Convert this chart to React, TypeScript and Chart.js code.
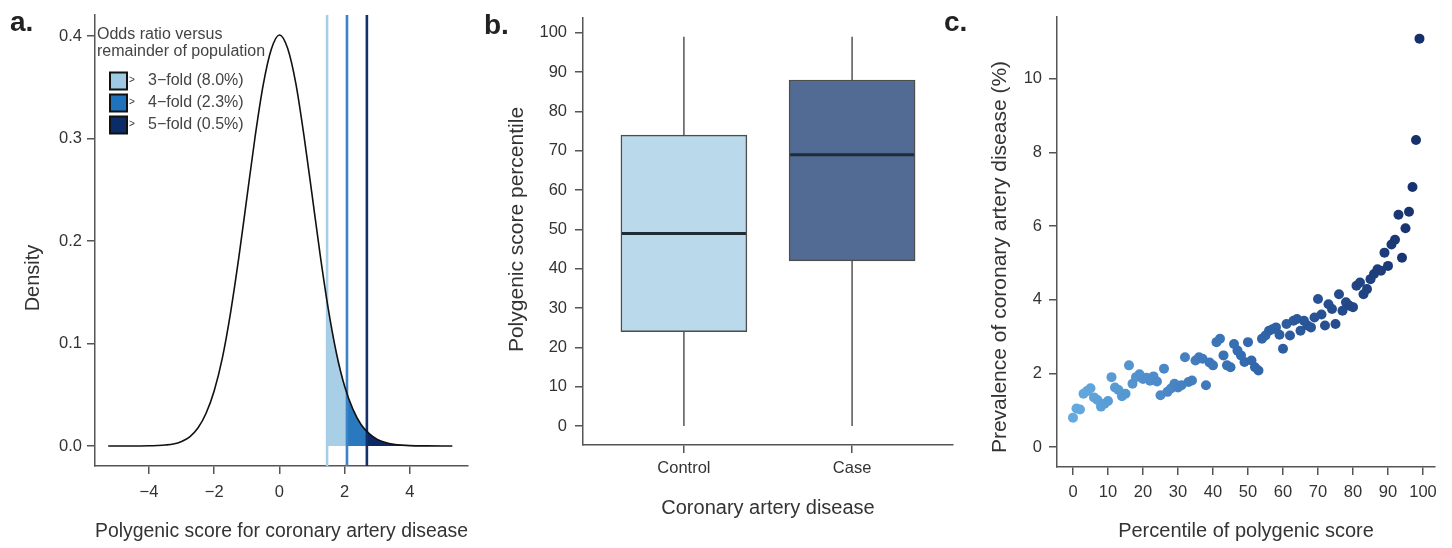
import React, { useEffect, useRef } from "react";
import { Chart, registerables } from "chart.js";
Chart.register(...registerables);

const FONT = "'Liberation Sans', Arial, Helvetica, sans-serif";
const AXIS_COLOR = "#555555";
const TEXT_COLOR = "#333333";

// ---------- Panel a: density of polygenic score ----------
const densityX = [-5.25, -5, -4.5, -4, -3.75, -3.5, -3.25, -3, -2.75, -2.5, -2.25, -2, -1.75, -1.5, -1.25, -1, -0.75, -0.5, -0.25, 0, 0.25, 0.5, 0.75, 1, 1.25, 1.5, 1.75, 2, 2.25, 2.5, 2.75, 3, 3.25, 3.5, 3.75, 4, 4.5, 5, 5.3];
const densityY = [0, 0, 0, 0.0002, 0.0005, 0.001, 0.002, 0.0045, 0.009, 0.0175, 0.032, 0.054, 0.086, 0.13, 0.183, 0.242, 0.301, 0.352, 0.387, 0.401, 0.388, 0.354, 0.303, 0.245, 0.186, 0.133, 0.09, 0.058, 0.036, 0.021, 0.012, 0.0065, 0.0035, 0.0018, 0.0009, 0.0004, 0.0001, 0, 0];
const cutoffs = [1.46, 2.07, 2.68];
const legendTitleLines = ["Odds ratio versus", "remainder of population"];
const legendLabels = ["3\u2212fold (8.0%)", "4\u2212fold (2.3%)", "5\u2212fold (0.5%)"];
const densityXTicks = [-4, -2, 0, 2, 4];
const densityXTickLabels = ["\u22124", "\u22122", "0", "2", "4"];
const densityYTicks = [0, 0.1, 0.2, 0.3, 0.4];

// ---------- Panel b: box plot ----------
const groups = ["Control", "Case"];
const whiskerLow = [0, 0];
const q1 = [24, 42];
const medians = [49, 69];
const q3 = [74, 88];
const whiskerHigh = [99, 99];
const boxYTicks = [0, 10, 20, 30, 40, 50, 60, 70, 80, 90, 100];

// ---------- Panel c: prevalence by percentile ----------
const percentiles = [0, 1, 2, 3, 4, 5, 6, 7, 8, 9, 10, 11, 12, 13, 14, 15, 16, 17, 18, 19, 20, 21, 22, 23, 24, 25, 26, 27, 28, 29, 30, 31, 32, 33, 34, 35, 36, 37, 38, 39, 40, 41, 42, 43, 44, 45, 46, 47, 48, 49, 50, 51, 52, 53, 54, 55, 56, 57, 58, 59, 60, 61, 62, 63, 64, 65, 66, 67, 68, 69, 70, 71, 72, 73, 74, 75, 76, 77, 78, 79, 80, 81, 82, 83, 84, 85, 86, 87, 88, 89, 90, 91, 92, 93, 94, 95, 96, 97, 98, 99];
const prevalence = [
  0.80, 1.05, 1.02, 1.45, 1.52, 1.60, 1.35, 1.28, 1.10, 1.18,
  1.25, 1.90, 1.62, 1.55, 1.38, 1.45, 2.22, 1.72, 1.90, 1.98,
  1.85, 1.88, 1.80, 1.92, 1.78, 1.41, 2.13, 1.50, 1.59, 1.72,
  1.62, 1.68, 2.44, 1.77, 1.81, 2.35, 2.44, 2.40, 1.68, 2.30,
  2.22, 2.85, 2.94, 2.49, 2.22, 2.17, 2.80, 2.62, 2.49, 2.31,
  2.85, 2.35, 2.17, 2.08, 2.94, 3.03, 3.16, 3.20, 3.25, 3.05,
  2.67, 3.34, 3.03, 3.43, 3.48, 3.16, 3.43, 3.30, 3.25, 3.52,
  4.02, 3.60, 3.30, 3.88, 3.75, 3.34, 4.15, 3.70, 3.93, 3.84,
  3.80, 4.38, 4.47, 4.15, 4.29, 4.56, 4.70, 4.83, 4.79, 5.28,
  4.92, 5.50, 5.63, 6.31, 5.14, 5.94, 6.39, 7.06, 8.34, 11.09,
];
const prevalenceTicks = [0, 2, 4, 6, 8, 10];
const percentileTicks = [0, 10, 20, 30, 40, 50, 60, 70, 80, 90, 100];

// ---------- styles ----------
const cutoffLineColors = ["#a6cee6", "#3a84c5", "#13306a"];
const tailFillColors = ["#a9cfe6", "#2a78bd", "#0b2a63"];
const legendFills = ["#9fcae4", "#2172bd", "#0b2c66"];
const boxFills = ["#bad9ea", "#526b94"];
const dotStops: [number, number[]][] = [
  [0, [100, 170, 224]],
  [0.5, [52, 106, 176]],
  [1, [22, 48, 108]],
];

function dotColor(t: number) {
  for (let i = 0; i < dotStops.length - 1; i++) {
    const [t0, c0] = dotStops[i];
    const [t1, c1] = dotStops[i + 1];
    if (t <= t1) {
      const f = (t - t0) / (t1 - t0);
      const c = c0.map((v, k) => Math.round(v + (c1[k] - v) * f));
      return `rgb(${c[0]},${c[1]},${c[2]})`;
    }
  }
  const c = dotStops[dotStops.length - 1][1];
  return `rgb(${c[0]},${c[1]},${c[2]})`;
}

function makeAxis(
  min: number,
  max: number,
  tickVals: number[],
  fmt: (v: number) => string,
  fit: number,
  isX: boolean,
  pad: number,
  title?: string,
  titlePad?: number
): any {
  return {
    type: "linear",
    min,
    max,
    offset: false,
    afterBuildTicks: (s: any) => {
      s.ticks = tickVals.map((v) => ({ value: v }));
    },
    afterFit: (s: any) => {
      if (isX) s.height = fit;
      else s.width = fit;
    },
    grid: {
      display: true,
      drawOnChartArea: false,
      drawTicks: true,
      tickLength: 8,
      lineWidth: 1.5,
      tickWidth: 1.5,
      color: AXIS_COLOR,
      tickColor: AXIS_COLOR,
      offset: false,
    },
    border: { display: true, color: AXIS_COLOR, width: 1.5 },
    ticks: {
      color: TEXT_COLOR,
      font: { family: FONT, size: 16.5 },
      padding: pad,
      maxRotation: 0,
      autoSkip: false,
      callback: (v: any) => fmt(Number(v)),
    },
    title: title
      ? {
          display: true,
          text: title,
          color: TEXT_COLOR,
          font: { family: FONT, size: 20 },
          padding: { top: 0, bottom: titlePad ?? 0 },
        }
      : { display: false },
  };
}

const rotatedTitle = {
  id: "rotatedTitle",
  afterDraw(chart: any, _args: any, opts: any) {
    if (!opts || !opts.text) return;
    const ctx = chart.ctx;
    ctx.save();
    ctx.translate(opts.x, opts.y);
    ctx.rotate(-Math.PI / 2);
    ctx.font = `${opts.size || 21}px ${FONT}`;
    ctx.fillStyle = TEXT_COLOR;
    ctx.textAlign = "center";
    ctx.textBaseline = "middle";
    ctx.fillText(opts.text, 0, 0);
    ctx.restore();
  },
};

const tailFill = {
  id: "tailFill",
  beforeDatasetsDraw(chart: any) {
    const meta = chart.getDatasetMeta(0);
    const line = meta.dataset;
    const pts = meta.data;
    if (!line || !pts || !pts.length) return;
    const xs = chart.scales.x;
    const ys = chart.scales.y;
    const { top, bottom } = chart.chartArea;
    const y0 = ys.getPixelForValue(0);
    const bounds = [...cutoffs, densityX[densityX.length - 1]];
    const ctx = chart.ctx;
    try {
      if (line.updateControlPoints) line.updateControlPoints(chart.chartArea, "x");
    } catch (e) {}
    for (let i = 0; i < cutoffs.length; i++) {
      const l = xs.getPixelForValue(bounds[i]);
      const r = xs.getPixelForValue(bounds[i + 1]);
      ctx.save();
      ctx.beginPath();
      ctx.rect(l, top, r - l, bottom - top);
      ctx.clip();
      ctx.beginPath();
      let ok = false;
      try {
        if (typeof line.path === "function") {
          line.path(ctx);
          ok = true;
        }
      } catch (e) {
        ok = false;
      }
      if (!ok) {
        ctx.beginPath();
        pts.forEach((p: any, k: number) => (k === 0 ? ctx.moveTo(p.x, p.y) : ctx.lineTo(p.x, p.y)));
      }
      ctx.lineTo(pts[pts.length - 1].x, y0);
      ctx.lineTo(pts[0].x, y0);
      ctx.closePath();
      ctx.fillStyle = tailFillColors[i];
      ctx.fill();
      ctx.restore();
    }
  },
};

const densityLegend = {
  id: "densityLegend",
  afterDraw(chart: any) {
    const ctx = chart.ctx;
    ctx.save();
    ctx.textBaseline = "middle";
    ctx.textAlign = "left";
    ctx.font = `16px ${FONT}`;
    ctx.fillStyle = "#444";
    legendTitleLines.forEach((t, i) => ctx.fillText(t, 97, 35 + i * 17));
    legendLabels.forEach((t, i) => {
      const y = 81 + i * 22;
      ctx.fillStyle = legendFills[i];
      ctx.fillRect(110, y - 8.5, 17, 17);
      ctx.strokeStyle = "#111";
      ctx.lineWidth = 2;
      ctx.strokeRect(110, y - 8.5, 17, 17);
      ctx.fillStyle = "#333";
      ctx.font = `10px ${FONT}`;
      ctx.fillText(">", 129, y - 1);
      ctx.font = `16px ${FONT}`;
      ctx.fillStyle = "#444";
      ctx.fillText(t, 148, y);
    });
    ctx.restore();
  },
};

const boxExtras = {
  id: "boxExtras",
  afterDatasetsDraw(chart: any) {
    const ctx = chart.ctx;
    const xs = chart.scales.x;
    const ys = chart.scales.y;
    const meta = chart.getDatasetMeta(0);
    groups.forEach((_g, i) => {
      const bar = meta.data[i];
      const cx = xs.getPixelForValue(i + 1);
      const half = bar ? bar.width / 2 : 60;
      ctx.save();
      ctx.strokeStyle = AXIS_COLOR;
      ctx.lineWidth = 1.5;
      ctx.beginPath();
      ctx.moveTo(cx, ys.getPixelForValue(q3[i]));
      ctx.lineTo(cx, ys.getPixelForValue(whiskerHigh[i]));
      ctx.moveTo(cx, ys.getPixelForValue(q1[i]));
      ctx.lineTo(cx, ys.getPixelForValue(whiskerLow[i]));
      ctx.stroke();
      const my = ys.getPixelForValue(medians[i]);
      ctx.strokeStyle = "#1e2c36";
      ctx.lineWidth = 3;
      ctx.beginPath();
      ctx.moveTo(cx - half + 1, my);
      ctx.lineTo(cx + half - 1, my);
      ctx.stroke();
      ctx.restore();
    });
  },
};

const A_XMIN = -5.655, A_XMAX = 5.78, A_YMIN = -0.0195, A_YMAX = 0.4205;
const B_XMIN = 0.4, B_XMAX = 2.6, B_YMIN = -4.8, B_YMAX = 103.8;
const C_XMIN = -4.57, C_XMAX = 103.43, C_YMIN = -0.54, C_YMAX = 11.68;

export default function App() {
  const aRef = useRef<HTMLCanvasElement>(null);
  const bRef = useRef<HTMLCanvasElement>(null);
  const cRef = useRef<HTMLCanvasElement>(null);

  useEffect(() => {
    const common = {
      responsive: false,
      animation: false as const,
      events: [] as any[],
    };

    const chartA = new Chart(aRef.current as HTMLCanvasElement, {
      type: "scatter",
      data: {
        datasets: [
          {
            data: densityX.map((x, i) => ({ x, y: densityY[i] })),
            showLine: true,
            borderColor: "#111",
            borderWidth: 1.6,
            pointRadius: 0,
            cubicInterpolationMode: "monotone",
            fill: false,
          } as any,
          ...cutoffs.map((c, i) => ({
            data: [
              { x: c, y: A_YMIN },
              { x: c, y: A_YMAX },
            ],
            showLine: true,
            borderColor: cutoffLineColors[i],
            borderWidth: 2.6,
            pointRadius: 0,
            fill: false,
          })),
        ],
      },
      options: {
        ...common,
        layout: { padding: { top: 15, right: 12, left: 0, bottom: 0 } },
        plugins: {
          legend: { display: false },
          tooltip: { enabled: false },
          rotatedTitle: { text: "Density", x: 33, y: 278, size: 20 },
        } as any,
        scales: {
          x: makeAxis(A_XMIN, A_XMAX, densityXTicks, (v) => densityXTickLabels[densityXTicks.indexOf(v)] ?? String(v), 82, true, 9, "Polygenic score for coronary artery disease", 5),
          y: makeAxis(A_YMIN, A_YMAX, densityYTicks, (v) => v.toFixed(1), 95, false, 5),
        },
      },
      plugins: [tailFill, densityLegend, rotatedTitle],
    });

    const chartB = new Chart(bRef.current as HTMLCanvasElement, {
      type: "bar",
      data: {
        datasets: [
          {
            data: groups.map((_g, i) => ({ x: i + 1, y: [q1[i], q3[i]] })) as any,
            backgroundColor: boxFills,
            borderColor: "#4d4d4d",
            borderWidth: 1.5,
            borderSkipped: false,
            barThickness: 126,
          } as any,
        ],
      },
      options: {
        ...common,
        layout: { padding: { top: 14, right: 7, left: 0, bottom: 0 } },
        plugins: {
          legend: { display: false },
          tooltip: { enabled: false },
          rotatedTitle: { text: "Polygenic score percentile", x: 37, y: 229.5, size: 21 },
        } as any,
        scales: {
          x: makeAxis(B_XMIN, B_XMAX, [1, 2], (v) => groups[v - 1] ?? "", 103, true, 6, "Coronary artery disease", 28),
          y: makeAxis(B_YMIN, B_YMAX, boxYTicks, (v) => String(v), 103, false, 8),
        },
      },
      plugins: [boxExtras, rotatedTitle],
    });

    const chartC = new Chart(cRef.current as HTMLCanvasElement, {
      type: "scatter",
      data: {
        datasets: [
          {
            data: percentiles.map((p, i) => ({ x: p, y: prevalence[i] })),
            pointRadius: 5,
            pointBorderWidth: 0,
            backgroundColor: percentiles.map((_p, i) => dotColor(i / (percentiles.length - 1))),
            borderColor: "rgba(0,0,0,0)",
          } as any,
        ],
      },
      options: {
        ...common,
        layout: { padding: { top: 15, right: 17, left: 0, bottom: 0 } },
        plugins: {
          legend: { display: false },
          tooltip: { enabled: false },
          rotatedTitle: { text: "Prevalence of coronary artery disease (%)", x: 40, y: 257, size: 21 },
        } as any,
        scales: {
          x: makeAxis(C_XMIN, C_XMAX, percentileTicks, (v) => String(v), 81, true, 8, "Percentile of polygenic score", 5),
          y: makeAxis(C_YMIN, C_YMAX, prevalenceTicks, (v) => String(v), 97, false, 7),
        },
      },
      plugins: [rotatedTitle],
    });

    return () => {
      chartA.destroy();
      chartB.destroy();
      chartC.destroy();
    };
  }, []);

  const panelLabel: React.CSSProperties = {
    position: "absolute",
    fontFamily: FONT,
    fontWeight: "bold",
    fontSize: 28,
    lineHeight: 1,
    color: "#222",
  };

  return (
    <div style={{ position: "absolute", left: 0, top: 0, width: 1452, height: 548, background: "#fff", overflow: "hidden" }}>
      <canvas ref={aRef} width={480} height={548} style={{ position: "absolute", left: 0, top: 0 }} />
      <canvas ref={bRef} width={480} height={548} style={{ position: "absolute", left: 480, top: 0 }} />
      <canvas ref={cRef} width={492} height={548} style={{ position: "absolute", left: 960, top: 0 }} />
      <div style={{ ...panelLabel, left: 10, top: 8 }}>a.</div>
      <div style={{ ...panelLabel, left: 484, top: 11 }}>b.</div>
      <div style={{ ...panelLabel, left: 944, top: 8 }}>c.</div>
    </div>
  );
}
